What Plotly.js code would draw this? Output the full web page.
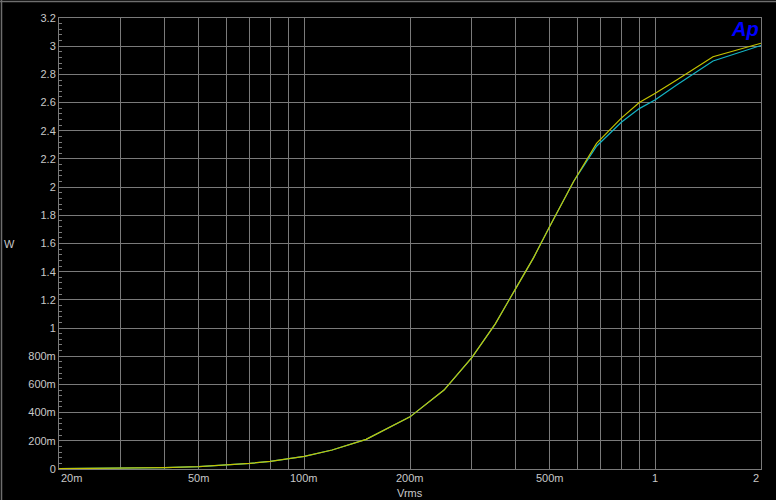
<!DOCTYPE html>
<html>
<head>
<meta charset="utf-8">
<script src="https://cdn.plot.ly/plotly-3.0.1.min.js"></script>
<style>
  html, body { margin: 0; padding: 0; background: #000; }
  #chart { width: 776px; height: 500px; }
</style>
</head>
<body>
<div id="chart"></div>
<script>
// Output power (W) vs input level (Vrms), two channels
const vrms = [0.02, 0.03, 0.04, 0.05, 0.06, 0.07, 0.08, 0.09, 0.1, 0.12, 0.15, 0.2,
  0.25, 0.3, 0.35, 0.4, 0.45, 0.5, 0.55, 0.585, 0.68, 0.8, 0.9, 1.0, 1.15, 1.46, 2.0];
const wattsYellow = [0.002, 0.005, 0.01, 0.017, 0.028, 0.04, 0.054, 0.072, 0.09, 0.135, 0.21, 0.37,
  0.56, 0.79, 1.03, 1.28, 1.5, 1.72, 1.92, 2.04, 2.31, 2.49, 2.6, 2.666, 2.76, 2.925, 3.021];
const wattsCyan = [0.002, 0.005, 0.01, 0.017, 0.028, 0.04, 0.054, 0.072, 0.09, 0.135, 0.21, 0.37,
  0.56, 0.79, 1.03, 1.28, 1.5, 1.72, 1.92, 2.04, 2.29, 2.46, 2.557, 2.62, 2.725, 2.895, 3.005];

// axis ticks / grid
const xGridVals = [0.02, 0.03, 0.04, 0.05, 0.06, 0.07, 0.08, 0.09,
  0.1, 0.2, 0.3, 0.4, 0.5, 0.6, 0.7, 0.8, 0.9, 1, 2];
const xLabelVals = [0.02, 0.05, 0.1, 0.2, 0.5, 1, 2];
const xLabelText = ["20m", "50m", "100m", "200m", "500m", "1", "2"];
const yTickVals = [0, 0.2, 0.4, 0.6, 0.8, 1, 1.2, 1.4, 1.6, 1.8, 2, 2.2, 2.4, 2.6, 2.8, 3, 3.2];
const yTickText = ["0", "200m", "400m", "600m", "800m", "1", "1.2", "1.4", "1.6", "1.8",
  "2", "2.2", "2.4", "2.6", "2.8", "3", "3.2"];

const GRID = "#7a7a7a";
const TEXT = "#c8c8c8";
const FONT = "Liberation Sans, Arial, sans-serif";

// plot area in pixels: l=59, r=761, t=18, b=469
const M = { l: 59, r: 15, t: 18, b: 31 };
const PW = 776 - M.l - M.r;
const PH = 500 - M.t - M.b;

const traces = [
  {
    type: "scatter", mode: "lines", x: vrms, y: wattsCyan,
    line: { color: "#14b4c4", width: 1.2 }, hoverinfo: "skip",
  },
  {
    type: "scatter", mode: "lines", x: vrms, y: wattsYellow,
    line: { color: "#c4c400", width: 1.2 }, hoverinfo: "skip",
  },
];

// x labels as annotations: AP keeps the end labels inside the plot width
const xLabels = xLabelVals.map((v, i) => ({
  xref: "x", yref: "paper",
  x: Math.log10(v), y: -(478 - 469) / PH,
  xanchor: i === 0 ? "left" : i === xLabelVals.length - 1 ? "right" : "center",
  yanchor: "middle",
  text: xLabelText[i], showarrow: false,
  font: { family: FONT, size: 11, color: TEXT },
}));

const layout = {
  width: 776,
  height: 500,
  paper_bgcolor: "#000",
  plot_bgcolor: "#000",
  showlegend: false,
  margin: M,
  font: { family: FONT, size: 11, color: TEXT },
  xaxis: {
    type: "log",
    range: [Math.log10(0.02), Math.log10(2)],
    tickmode: "array",
    tickvals: xGridVals,
    showticklabels: false,
    ticks: "",
    showgrid: true,
    gridcolor: GRID,
    gridwidth: 1,
    showline: true,
    linecolor: GRID,
    linewidth: 1,
    mirror: true,
    zeroline: false,
  },
  yaxis: {
    range: [0, 3.2],
    tickmode: "array",
    tickvals: yTickVals,
    ticktext: yTickText,
    ticks: "inside",
    ticklen: 4,
    tickcolor: GRID,
    showgrid: true,
    gridcolor: GRID,
    gridwidth: 1,
    showline: true,
    linecolor: GRID,
    linewidth: 1,
    mirror: true,
    zeroline: false,
    tickfont: { family: FONT, size: 11, color: TEXT },
    minor: {
      tickmode: "linear",
      tick0: 0,
      dtick: 0.04,
      ticks: "inside",
      ticklen: 3,
      tickcolor: GRID,
      showgrid: false,
    },
  },
  annotations: xLabels.concat([
    {
      xref: "paper", yref: "paper",
      x: (9 - M.l) / PW, y: 0.5,
      xanchor: "center", yanchor: "middle",
      text: "W", showarrow: false,
      font: { family: FONT, size: 11, color: TEXT },
    },
    {
      xref: "paper", yref: "paper",
      x: 0.5, y: -(493 - 469) / PH,
      xanchor: "center", yanchor: "middle",
      text: "Vrms", showarrow: false,
      font: { family: FONT, size: 11, color: TEXT },
    },
    {
      xref: "paper", yref: "paper",
      x: 1, y: 1,
      xanchor: "right", yanchor: "top",
      xshift: 0, yshift: 2,
      text: "<b><i>Ap</i></b>", showarrow: false,
      font: { family: FONT, size: 20, color: "#0000ff" },
    },
  ]),
  shapes: [
    // window frame, top and left edge
    {
      type: "line", xref: "paper", yref: "paper",
      x0: -M.l / PW, x1: 1 + M.r / PW,
      y0: 1 + (M.t - 1.5) / PH, y1: 1 + (M.t - 1.5) / PH,
      line: { color: "#6e6e6e", width: 1.5 },
    },
    {
      type: "line", xref: "paper", yref: "paper",
      x0: (1.5 - M.l) / PW, x1: (1.5 - M.l) / PW,
      y0: -M.b / PH, y1: 1 + M.t / PH,
      line: { color: "#6e6e6e", width: 1.5 },
    },
  ],
};

Plotly.newPlot("chart", traces, layout, { displayModeBar: false, staticPlot: true });
</script>
</body>
</html>
